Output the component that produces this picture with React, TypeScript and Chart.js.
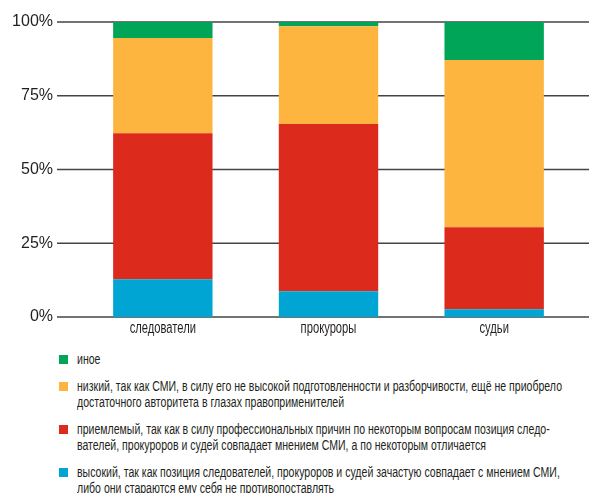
import React, { useEffect, useRef, useState } from "react";
import { Chart, registerables } from "chart.js";

Chart.register(...registerables);

const categories = ["следователи", "прокуроры", "судьи"];
const seriesLabels = [
  "высокий, так как позиция следователей, прокуроров и судей зачастую совпадает с мнением СМИ, либо они стараются ему себя не противопоставлять",
  "приемлемый, так как в силу профессиональных причин по некоторым вопросам позиция следо-вателей, прокуроров и судей совпадает мнением СМИ, а по некоторым отличается",
  "низкий, так как СМИ, в силу его не высокой подготовленности и разборчивости, ещё не приобрело достаточного авторитета в глазах правоприменителей",
  "иное",
];
const highValues = [12.8, 8.7, 2.6];
const acceptableValues = [49.5, 56.7, 27.8];
const lowValues = [32.3, 33.2, 56.7];
const otherValues = [5.4, 1.4, 12.9];
const seriesColors = ["#00A5D4", "#DC2B1C", "#FDB53F", "#00A558"];
const yTicks = [0, 25, 50, 75, 100];

const legendLines: string[][] = [
  ["иное"],
  [
    "низкий, так как СМИ, в силу его не высокой подготовленности и разборчивости, ещё не приобрело",
    "достаточного авторитета в глазах правоприменителей",
  ],
  [
    "приемлемый, так как в силу профессиональных причин по некоторым вопросам позиция следо-",
    "вателей, прокуроров и судей совпадает мнением СМИ, а по некоторым отличается",
  ],
  [
    "высокий, так как позиция следователей, прокуроров и судей зачастую совпадает с мнением СМИ,",
    "либо они стараются ему себя не противопоставлять",
  ],
];
const legendColors = ["#00A558", "#FDB53F", "#DC2B1C", "#00A5D4"];

const FONT = "'Liberation Sans', Arial, sans-serif";
const LEGEND_FONT_SIZE = 14;
const LEGEND_TARGET_WIDTH = 485;
const CONDENSE = 0.7;

const gridPlugin = {
  id: "customGrid",
  beforeDatasetsDraw(chart: any) {
    const { ctx } = chart;
    const y = chart.scales.y;
    ctx.save();
    ctx.strokeStyle = "#444";
    ctx.lineWidth = 1.6;
    yTicks.forEach((v) => {
      const py = y.getPixelForValue(v);
      ctx.beginPath();
      ctx.moveTo(57, py);
      ctx.lineTo(chart.width, py);
      ctx.stroke();
    });
    ctx.restore();
  },
};

// condensed category labels drawn at the x scale's positions
const xLabelPlugin = {
  id: "condensedXLabels",
  afterDraw(chart: any) {
    const { ctx } = chart;
    const x = chart.scales.x;
    const base = chart.chartArea.bottom + 16;
    ctx.save();
    ctx.font = `16px ${FONT}`;
    ctx.fillStyle = "#231F20";
    ctx.textAlign = "center";
    ctx.textBaseline = "alphabetic";
    categories.forEach((c, i) => {
      const px = x.getPixelForValue(i);
      ctx.save();
      ctx.translate(px, base);
      ctx.scale(CONDENSE, 1);
      ctx.fillText(c, 0, 0);
      ctx.restore();
    });
    ctx.restore();
  },
};

function measureScale(): number {
  const c = document.createElement("canvas");
  const ctx = c.getContext("2d");
  if (!ctx) return 0.85;
  ctx.font = `${LEGEND_FONT_SIZE}px ${FONT}`;
  const w = ctx.measureText(legendLines[1][0]).width;
  return w > 0 ? LEGEND_TARGET_WIDTH / w : 0.85;
}

export default function App() {
  const ref = useRef<HTMLCanvasElement | null>(null);
  const [scale] = useState<number>(() => measureScale());
  useEffect(() => {
    const data = [highValues, acceptableValues, lowValues, otherValues];
    const chart = new Chart(ref.current as HTMLCanvasElement, {
      type: "bar",
      data: {
        labels: categories,
        datasets: data.map((d, i) => ({
          label: seriesLabels[i],
          data: d,
          backgroundColor: seriesColors[i],
          borderWidth: 0,
          barPercentage: 0.6,
          categoryPercentage: 1,
        })),
      },
      options: {
        animation: false,
        responsive: false,
        layout: { padding: { top: 22, right: 12, bottom: 0, left: 0 } },
        plugins: { legend: { display: false }, tooltip: { enabled: false } },
        scales: {
          x: {
            stacked: true,
            grid: { display: false, drawTicks: false },
            border: { display: false },
            ticks: { display: false },
            afterFit: (s: any) => {
              s.height = 23;
              s.paddingLeft = 0;
              s.paddingRight = 0;
            },
          },
          y: {
            stacked: true,
            min: 0,
            max: 100,
            grid: { display: false, drawTicks: false },
            border: { display: false },
            ticks: {
              stepSize: 25,
              font: { family: FONT, size: 16 },
              color: "#231F20",
              padding: 27,
              callback: (v: any) => v + "%",
            },
            afterFit: (s: any) => {
              s.width = 80;
              s.paddingTop = 0;
              s.paddingBottom = 0;
            },
          },
        },
      },
      plugins: [gridPlugin, xLabelPlugin],
    });
    return () => chart.destroy();
  }, []);

  return (
    <div style={{ position: "absolute", left: 0, top: 0, width: 589, height: 493, background: "#fff", overflow: "hidden" }}>
      <canvas ref={ref} width={589} height={340} style={{ position: "absolute", left: 0, top: 0 }} />
      <div style={{ position: "absolute", left: 59, top: 351, fontFamily: FONT, fontSize: LEGEND_FONT_SIZE, color: "#231F20", lineHeight: "16px" }}>
        {legendLines.map((lines, i) => (
          <div key={i} style={{ display: "flex", alignItems: "flex-start", marginBottom: 11 }}>
            <div style={{ width: 9, height: 9, background: legendColors[i], marginTop: 4, flex: "none" }} />
            <div style={{ marginLeft: 9, whiteSpace: "nowrap", transform: `scaleX(${scale})`, transformOrigin: "left top" }}>
              {lines.map((l, j) => (
                <div key={j}>{l}</div>
              ))}
            </div>
          </div>
        ))}
      </div>
    </div>
  );
}
